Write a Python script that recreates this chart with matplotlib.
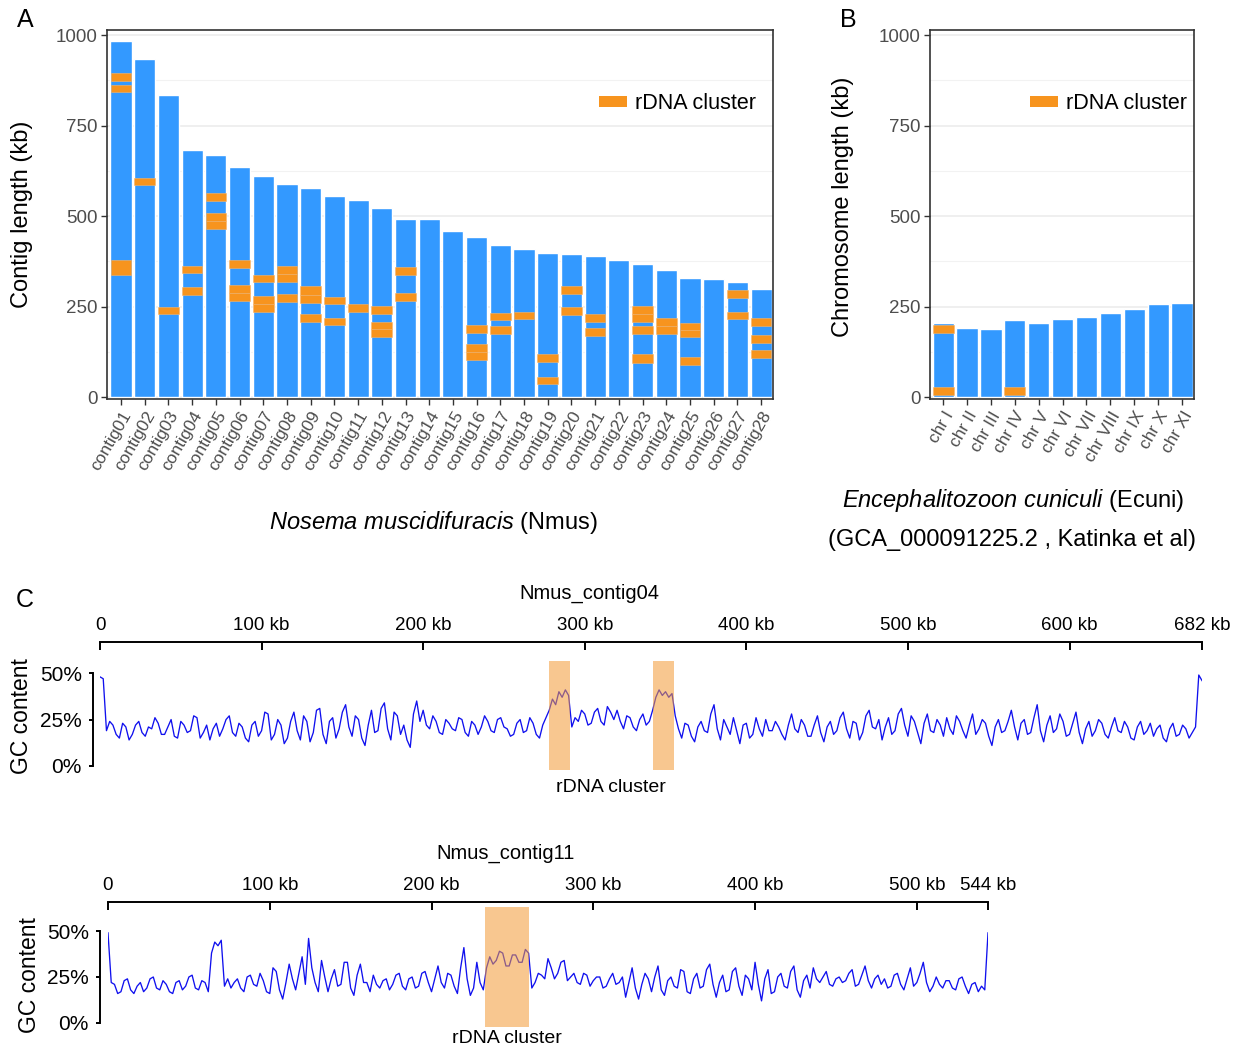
import numpy as np
import matplotlib
matplotlib.use("Agg")
import matplotlib.pyplot as plt
from matplotlib.patches import Patch

plt.rcParams['font.family'] = ['Liberation Sans', 'DejaVu Sans']
plt.rcParams['mathtext.fontset'] = 'custom'
plt.rcParams['mathtext.it'] = 'Liberation Sans:italic'
plt.rcParams['mathtext.rm'] = 'Liberation Sans'

# ---------------- data ----------------
contigs = [f"contig{i:02d}" for i in range(1, 29)]
contig_len = [985, 935, 835, 682, 670, 637, 612, 589, 578, 556, 544, 523, 492, 492,
              460, 443, 421, 408, 397, 395, 389, 380, 369, 352, 329, 326, 317, 299]
contig_rdna = [
    [(843, 863), (873, 895), (338, 380)],
    [(585, 606)],
    [(230, 250)],
    [(282, 304), (343, 363)],
    [(465, 486), (486, 509), (542, 563)],
    [(267, 288), (288, 310), (358, 378)],
    [(236, 258), (258, 280), (318, 338)],
    [(264, 285), (319, 341), (341, 363)],
    [(208, 229), (261, 283), (283, 307)],
    [(199, 220), (256, 277)],
    [(236, 257)],
    [(167, 187), (187, 208), (230, 252)],
    [(267, 289), (338, 359)],
    [],
    [],
    [(104, 126), (126, 148), (178, 199)],
    [(174, 196), (213, 233)],
    [(215, 236)],
    [(37, 57), (97, 119)],
    [(227, 250), (285, 307)],
    [(169, 191), (208, 229)],
    [],
    [(95, 119), (174, 196), (208, 230), (230, 252)],
    [(174, 196), (196, 218)],
    [(88, 110), (165, 185), (185, 206)],
    [],
    [(215, 236), (275, 297)],
    [(108, 130), (150, 171), (196, 218)],
]

chroms = ["chr I", "chr II", "chr III", "chr IV", "chr V", "chr VI", "chr VII",
          "chr VIII", "chr IX", "chr X", "chr XI"]
chrom_len = [204, 192, 189, 212, 206, 215, 222, 232, 244, 256, 261]
chrom_rdna = [[(6, 28), (176, 198)], [], [], [(6, 28)], [], [], [], [], [], [], []]

# GC content (%) in 2 kb windows
c04_len = 682
c04_pos = np.arange(0, 683, 2)
c04_gc = [
    48, 47, 19, 24, 22, 17, 15, 23, 21, 14, 17, 22, 24, 18, 16, 21, 20, 26, 23, 17,
    17, 21, 25, 16, 15, 24, 22, 18, 19, 27, 26, 15, 18, 22, 14, 20, 23, 16, 20, 25,
    27, 18, 16, 23, 21, 15, 13, 22, 24, 16, 19, 29, 28, 14, 17, 25, 22, 12, 15, 24,
    29, 19, 14, 27, 24, 13, 18, 30, 31, 17, 12, 24, 26, 15, 20, 29, 33, 21, 16, 27,
    25, 15, 11, 22, 30, 18, 19, 31, 34, 20, 14, 29, 27, 17, 22, 14, 10, 28, 35, 24,
    30, 22, 20, 27, 24, 18, 17, 25, 23, 20, 19, 26, 25, 18, 16, 24, 22, 17, 21, 27,
    24, 19, 18, 25, 26, 21, 20, 16, 17, 23, 25, 18, 19, 26, 23, 17, 15, 22, 26, 30,
    36, 33, 40, 37, 41, 38, 21, 26, 24, 30, 28, 22, 23, 29, 31, 24, 22, 32, 29, 25,
    30, 24, 20, 27, 26, 21, 19, 25, 28, 22, 24, 30, 37, 41, 38, 40, 37, 39, 27, 20,
    15, 23, 22, 16, 13, 21, 24, 19, 18, 28, 33, 20, 14, 25, 21, 17, 26, 19, 12, 22,
    23, 15, 17, 26, 20, 16, 25, 19, 19, 24, 21, 17, 14, 22, 28, 20, 18, 25, 22, 16,
    16, 22, 27, 18, 13, 21, 24, 17, 19, 26, 29, 20, 15, 24, 23, 14, 18, 27, 30, 21,
    20, 25, 14, 21, 26, 17, 19, 28, 31, 22, 16, 27, 24, 18, 12, 23, 28, 19, 18, 25,
    22, 16, 26, 20, 17, 27, 24, 19, 15, 22, 28, 17, 20, 25, 23, 16, 11, 21, 25, 18,
    19, 24, 30, 21, 14, 23, 25, 17, 18, 26, 33, 19, 13, 22, 27, 18, 20, 28, 24, 16,
    17, 23, 29, 18, 12, 20, 24, 16, 19, 25, 23, 17, 15, 21, 26, 19, 18, 24, 21, 15,
    14, 21, 24, 17, 19, 23, 16, 20, 22, 15, 13, 20, 23, 16, 17, 22, 20, 15, 18, 21,
    49, 46]
c04_rdna = [(278, 291), (342, 355)]

c11_len = 544
c11_pos = np.arange(0, 545, 2)
c11_gc = [
    49, 22, 21, 16, 17, 23, 24, 18, 16, 20, 22, 17, 19, 24, 25, 19, 18, 23, 21, 17,
    16, 22, 23, 18, 20, 25, 26, 19, 18, 23, 22, 17, 38, 44, 42, 45, 20, 24, 19, 22,
    24, 19, 17, 25, 26, 21, 20, 27, 23, 17, 16, 30, 28, 18, 13, 22, 32, 24, 18, 27,
    36, 21, 46, 30, 22, 17, 34, 25, 17, 24, 29, 20, 21, 33, 33, 19, 15, 26, 32, 22,
    22, 17, 26, 21, 19, 23, 24, 18, 21, 26, 27, 20, 18, 24, 25, 19, 20, 27, 28, 22,
    17, 24, 31, 22, 19, 27, 26, 20, 16, 30, 41, 24, 15, 19, 33, 22, 18, 30, 36, 32,
    34, 39, 38, 31, 31, 37, 37, 33, 33, 40, 38, 19, 22, 27, 26, 24, 35, 30, 24, 27,
    33, 34, 23, 25, 27, 22, 21, 27, 26, 20, 23, 25, 25, 19, 20, 24, 27, 21, 22, 25,
    14, 22, 30, 19, 13, 21, 27, 24, 17, 25, 31, 18, 15, 23, 25, 20, 19, 29, 28, 17,
    16, 24, 27, 19, 20, 29, 32, 21, 14, 22, 26, 17, 18, 28, 30, 20, 15, 26, 24, 18,
    33, 21, 12, 24, 29, 16, 17, 25, 27, 20, 19, 28, 31, 18, 14, 23, 26, 19, 30, 24,
    22, 25, 28, 21, 20, 24, 25, 22, 23, 27, 29, 20, 21, 26, 31, 23, 19, 24, 26, 21,
    24, 19, 20, 26, 27, 21, 18, 24, 30, 20, 22, 27, 33, 22, 17, 20, 25, 21, 19, 23,
    23, 19, 18, 24, 25, 20, 16, 21, 22, 17, 20, 18,
    49]
c11_rdna = [(233, 260)]

len_ticks = [0, 250, 500, 750, 1000]
len_minor = [125, 375, 625, 875]
gc_ticks = [0, 25, 50]
gc_ticklabels = ["0%", "25%", "50%"]
c04_ticks = [0, 100, 200, 300, 400, 500, 600, 682]
c11_ticks = [0, 100, 200, 300, 400, 500, 544]

assert len(c04_gc) == len(c04_pos), (len(c04_gc), len(c04_pos))
assert len(c11_gc) == len(c11_pos), (len(c11_gc), len(c11_pos))

# ---------------- style ----------------
BLUE = '#3399FF'
ORANGE = '#F7941E'
FRAME = '#333333'
TICKCOL = '#4D4D4D'
LINE = '#1010EE'
BOX = '#F39A35'

W, H = 1239, 1049
fig = plt.figure(figsize=(W / 100, H / 100), dpi=100)


def fbox(l, t, r, b):
    return [l / W, 1 - b / H, (r - l) / W, (b - t) / H]


def ftext(x, y, s, **kw):
    fig.text(x / W, 1 - y / H, s, **kw)


def bar_panel(ax, names, lengths, bands, xlim):
    x = np.arange(len(names))
    ax.bar(x, lengths, width=0.89, color=BLUE, edgecolor='white', linewidth=1.0, zorder=2)
    for i, bl in enumerate(bands):
        for s, e in bl:
            ax.bar(x[i], e - s, bottom=s, width=0.87, color=ORANGE,
                   edgecolor='#F9B56A', linewidth=0.4, zorder=3)
    ax.set_xlim(*xlim)
    ax.set_ylim(-5, 1014)
    ax.set_yticks(len_ticks)
    ax.set_yticks(len_minor, minor=True)
    ax.yaxis.grid(True, which='major', color='#EBEBEB', linewidth=1.1)
    ax.yaxis.grid(True, which='minor', color='#F2F2F2', linewidth=0.8)
    ax.set_axisbelow(True)
    ax.set_xticks(x)
    ax.set_xticklabels(names, rotation=60, ha='right', va='top', rotation_mode='anchor')
    for sp in ax.spines.values():
        sp.set_color(FRAME)
        sp.set_linewidth(1.2)
    ax.tick_params(axis='both', which='major', length=4, width=1.0, color=FRAME,
                   labelcolor=TICKCOL)
    ax.tick_params(axis='y', which='major', labelsize=13.5, pad=3)
    ax.tick_params(axis='x', which='major', labelsize=12.5, pad=3)
    ax.tick_params(axis='y', which='minor', length=0)
    ax.legend(handles=[Patch(facecolor=ORANGE, edgecolor='none', label='rDNA cluster')],
              loc='center right', bbox_to_anchor=(0.975, 0.80), frameon=False,
              fontsize=15.5, handlelength=1.3, handleheight=0.45, handletextpad=0.4,
              borderaxespad=0, borderpad=0)


# ---------------- panel A ----------------
axA = fig.add_axes(fbox(107, 30, 773, 399))
bar_panel(axA, contigs, contig_len, contig_rdna, (-0.59, 27.5))
ftext(22, 214, 'Contig length (kb)', rotation=90, ha='center', va='center', fontsize=17)
ftext(433, 523, r'$\it{Nosema\ muscidifuracis}$ (Nmus)', ha='center', va='center', fontsize=17)

# ---------------- panel B ----------------
axB = fig.add_axes(fbox(930, 30, 1194, 399))
bar_panel(axB, chroms, chrom_len, chrom_rdna, (-0.55, 10.5))
ftext(843, 207, 'Chromosome length (kb)', rotation=90, ha='center', va='center', fontsize=17)
ftext(1013, 501, r'$\it{Encephalitozoon\ cuniculi}$ (Ecuni)', ha='center', va='center', fontsize=17)
ftext(1012, 540, '(GCA_000091225.2 , Katinka et al)', ha='center', va='center', fontsize=17)


# ---------------- panel C ----------------
def gc_panel(ax, pos, gc, rdna, length, ticks, ylim, box_top, outward, label_y):
    ax.plot(pos, gc, color=LINE, linewidth=0.95, zorder=2)
    for s, e in rdna:
        ax.axvspan(s, e, ymin=0, ymax=box_top, facecolor=BOX, alpha=0.55,
                   linewidth=0, zorder=3)
    ax.set_xlim(0, length)
    ax.set_ylim(*ylim)
    ax.spines['right'].set_visible(False)
    ax.spines['bottom'].set_visible(False)
    ax.spines['top'].set_bounds(0, length)
    ax.spines['left'].set_bounds(0, 50)
    ax.spines['left'].set_position(('outward', outward))
    for sp in ('top', 'left'):
        ax.spines[sp].set_linewidth(1.4)
        ax.spines[sp].set_color('black')
    ax.xaxis.tick_top()
    ax.set_xticks(ticks)
    ax.set_xticklabels(["0"] + [f"{t} kb" for t in ticks[1:]])
    ax.tick_params(axis='x', direction='in', length=6, width=1.4, labelsize=13.5, pad=5.5)
    ax.set_yticks(gc_ticks)
    ax.set_yticklabels(gc_ticklabels)
    ax.tick_params(axis='y', direction='out', length=3, width=1.4, labelsize=15, pad=5)
    ax.set_facecolor('none')
    mid = (rdna[0][0] + rdna[-1][1]) / 2
    ax.annotate('rDNA cluster', xy=(mid, label_y), xycoords=('data', 'axes fraction'),
                ha='center', va='center', fontsize=14)


axC1 = fig.add_axes(fbox(100, 642, 1202, 770))
gc_panel(axC1, c04_pos, c04_gc, c04_rdna, c04_len, c04_ticks, (-2.2, 66.8), 0.852, 5.0, -0.135)
ftext(589, 593, 'Nmus_contig04', ha='center', va='center', fontsize=14.5)
ftext(22, 716, 'GC content', rotation=90, ha='center', va='center', fontsize=16.5)

axC2 = fig.add_axes(fbox(108, 902, 988, 1027))
gc_panel(axC2, c11_pos, c11_gc, c11_rdna, c11_len, c11_ticks, (-2.2, 65.8), 0.96, 5.8, -0.095)
ftext(506, 853, 'Nmus_contig11', ha='center', va='center', fontsize=14.5)
ftext(30, 975, 'GC content', rotation=90, ha='center', va='center', fontsize=16.5)

# panel letters
ftext(25, 20, 'A', ha='center', va='center', fontsize=18)
ftext(848, 20, 'B', ha='center', va='center', fontsize=18)
ftext(25, 600, 'C', ha='center', va='center', fontsize=18)

fig.savefig('out.png', dpi=100)
